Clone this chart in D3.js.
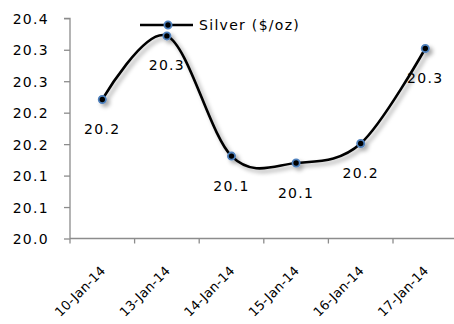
<!DOCTYPE html>
<html>
<head>
<meta charset="utf-8">
<script src="https://cdn.jsdelivr.net/npm/d3@7"></script>
<style>
  html, body { margin: 0; padding: 0; background: #fff; }
  svg { display: block; }
  text { font-family: "DejaVu Sans", sans-serif; font-size: 14px; letter-spacing: 1.3px; fill: #000; }
  text.lbl { font-size: 13px; letter-spacing: 0.2px; }
</style>
</head>
<body>
<svg id="chart" width="454" height="324"></svg>
<script>
// Silver closing price, January 2014
const dates = ["10-Jan-14", "13-Jan-14", "14-Jan-14", "15-Jan-14", "16-Jan-14", "17-Jan-14"];
const silver = [20.221, 20.322, 20.131, 20.120, 20.151, 20.302];
const seriesName = "Silver ($/oz)";
const yTickValues = [20.00, 20.05, 20.10, 20.15, 20.20, 20.25, 20.30, 20.35];
const yTickLabels = ["20.0", "20.1", "20.1", "20.2", "20.2", "20.3", "20.3", "20.4"];

const svg = d3.select("#chart");
const plot = { left: 70, right: 457.6, top: 18.3, bottom: 238.5 };

const x = d3.scaleBand().domain(dates).range([plot.left, plot.right]);
const y = d3.scaleLinear().domain([20.0, 20.35]).range([plot.bottom, plot.top]);

// soft drop shadow under the series
const defs = svg.append("defs");
const f = defs.append("filter").attr("id", "shadow")
  .attr("x", "-20%").attr("y", "-20%").attr("width", "140%").attr("height", "140%");
f.append("feDropShadow").attr("dx", 3).attr("dy", 3).attr("stdDeviation", 2)
  .attr("flood-color", "#000").attr("flood-opacity", 0.35);

const axisColor = "#8c8c8c";

// y axis
const yAxis = d3.axisLeft(y)
  .tickValues(yTickValues)
  .tickFormat((d, i) => yTickLabels[i])
  .tickSize(6).tickPadding(15);
const gy = svg.append("g").attr("transform", `translate(${plot.left},0)`).call(yAxis);
gy.select(".domain").attr("stroke", axisColor).attr("stroke-width", 1.3).attr("d", `M-6,${plot.top}H0V${plot.bottom}`);
gy.selectAll(".tick line").attr("stroke", axisColor).attr("stroke-width", 1.3);
gy.selectAll(".tick text").attr("font-size", null).attr("font-family", null).attr("fill", "#000").attr("dy", "0.36em");

// x axis: ticks sit on category boundaries
const gx = svg.append("g").attr("transform", `translate(0,${plot.bottom})`);
gx.append("line").attr("x1", plot.left).attr("x2", plot.right).attr("y1", 0).attr("y2", 0)
  .attr("stroke", axisColor).attr("stroke-width", 1.3);
gx.selectAll("line.tk").data(dates).join("line").attr("class", "tk")
  .attr("x1", d => x(d)).attr("x2", d => x(d)).attr("y1", 0).attr("y2", 5)
  .attr("stroke", axisColor).attr("stroke-width", 1.3);
gx.selectAll("text.lbl").data(dates).join("text").attr("class", "lbl")
  .attr("text-anchor", "end")
  .attr("transform", d => `translate(${x(d) + x.bandwidth() / 2 + 4},${33}) rotate(-45)`)
  .text(d => d);

// smoothed series line
const cx = d => x(d) + x.bandwidth() / 2;
const pts = dates.map((d, i) => [cx(d), y(silver[i])]);
const line = d3.line().curve(d3.curveCardinal.tension(0));
const series = svg.append("g").attr("filter", "url(#shadow)");
series.append("path").attr("d", line(pts)).attr("fill", "none")
  .attr("stroke", "#000").attr("stroke-width", 2.6);
series.selectAll("circle").data(pts).join("circle")
  .attr("cx", d => d[0]).attr("cy", d => d[1]).attr("r", 3.6)
  .attr("fill", "#000").attr("stroke", "#4f81bd").attr("stroke-width", 1.8);

// value labels under each point
svg.selectAll("text.val").data(dates).join("text").attr("class", "val")
  .attr("text-anchor", "middle")
  .attr("x", d => cx(d))
  .attr("y", (d, i) => y(silver[i]) + 34.5)
  .text((d, i) => d3.format(".1f")(silver[i]));

// legend
const lg = svg.append("g");
lg.append("line").attr("x1", 140).attr("x2", 193).attr("y1", 25).attr("y2", 25)
  .attr("stroke", "#000").attr("stroke-width", 2.6);
lg.append("circle").attr("cx", 168).attr("cy", 25).attr("r", 3.6)
  .attr("fill", "#000").attr("stroke", "#4f81bd").attr("stroke-width", 1.8);
lg.append("text").attr("x", 199).attr("y", 30).text(seriesName);
</script>
</body>
</html>
